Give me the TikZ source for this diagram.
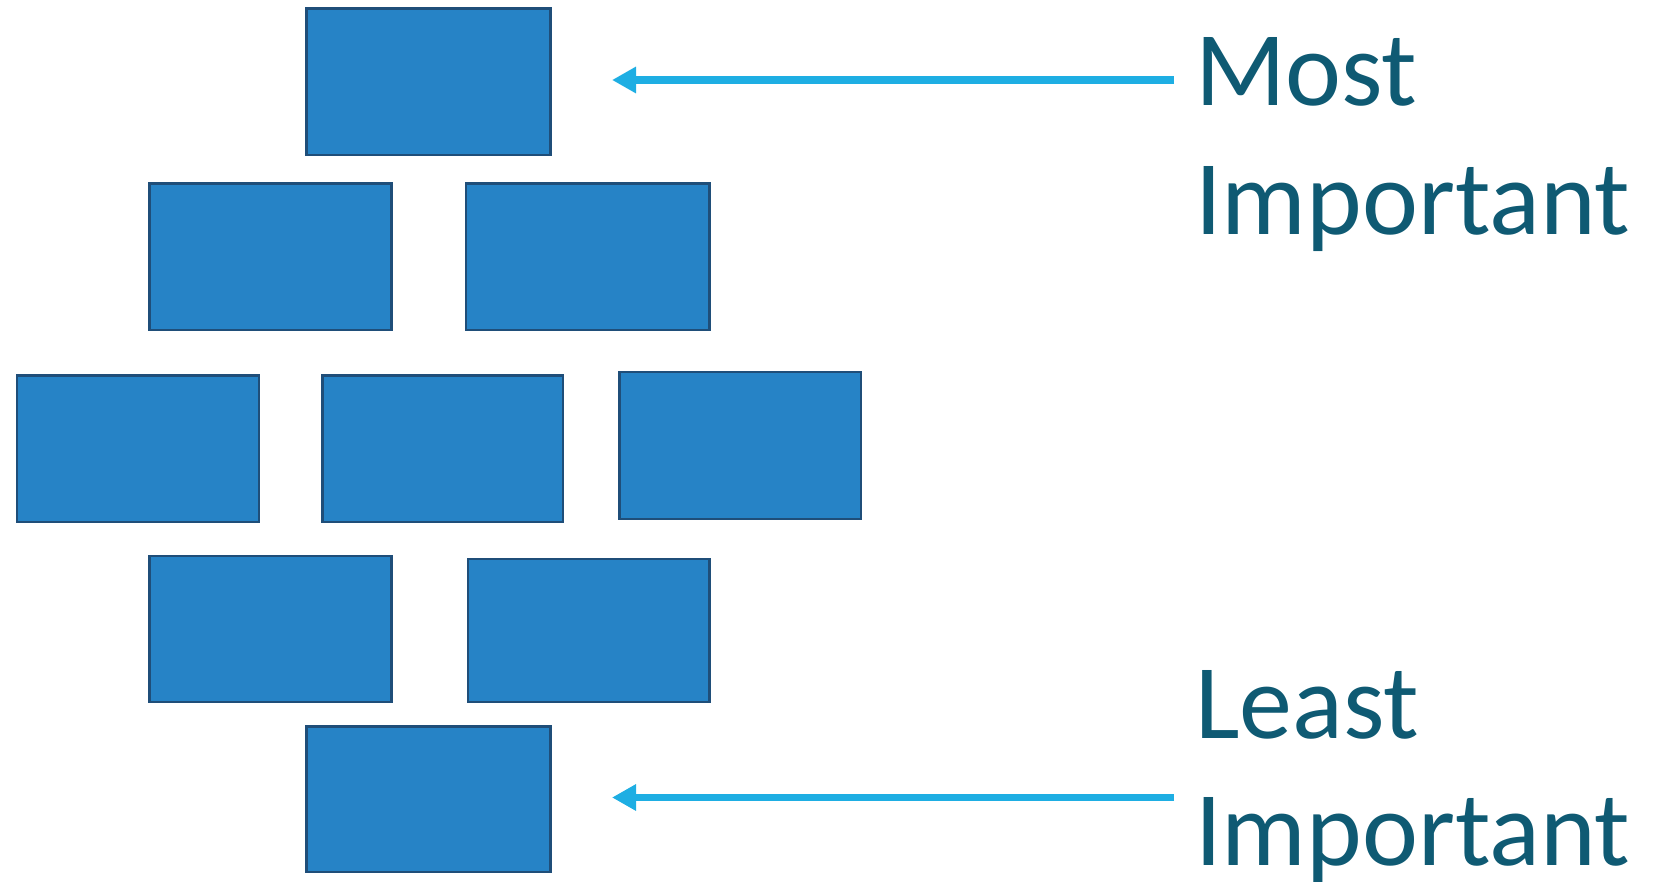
\documentclass[tikz,border=0pt]{standalone}
\usepackage{fontspec}
\setmainfont{Carlito}
\usetikzlibrary{arrows.meta}
\definecolor{boxfill}{HTML}{2683C6}
\definecolor{boxline}{HTML}{1F4E79}
\definecolor{arrowcol}{HTML}{1EAEE3}
\definecolor{textcol}{HTML}{0F5A73}
\tikzset{
  brick/.style={draw=boxline, line width=2.2pt, fill=boxfill},
  label/.style={anchor=base west, inner sep=0pt, text=textcol, font=\fontsize{106}{126}\selectfont},
  pointer/.style={draw=arrowcol, line width=7.5pt, -{Triangle[length=24pt,width=25pt]}}
}
\begin{document}
\begin{tikzpicture}[x=1pt,y=-1pt]
\useasboundingbox (0,0) rectangle (1663,882);
% row 1
\draw[brick] (306.5,8.5) rectangle (550.5,155);
% row 2
\draw[brick] (149.5,183.5) rectangle (391.4,330);
\draw[brick] (465.6,183.5) rectangle (709.5,330);
% row 3
\draw[brick] (17,375.5) rectangle (258.8,521.8);
\draw[brick] (322.4,375.5) rectangle (563.2,521.8);
\draw[brick] (619.4,372.3) rectangle (861.2,518.6);
% row 4
\draw[brick] (149.5,555.8) rectangle (391.4,702.1);
\draw[brick] (467.7,559) rectangle (709.5,702.1);
% row 5
\draw[brick] (306.5,726.5) rectangle (550.5,871.8);
% labels
\node[label] (most) at (1195,106) {Most};
\node[label] (mostimp) at (1195,235) {Important};
\node[label] (least) at (1195,738) {Least};
\node[label] (leastimp) at (1195,865) {Important};
% arrows
\coordinate (t1s) at (1174,80);
\coordinate (t1e) at (612,80);
\coordinate (t2s) at (1174,797.5);
\coordinate (t2e) at (612,797.5);
\draw[pointer] (t1s) -- (t1e);
\draw[pointer] (t2s) -- (t2e);
\end{tikzpicture}
\end{document}
